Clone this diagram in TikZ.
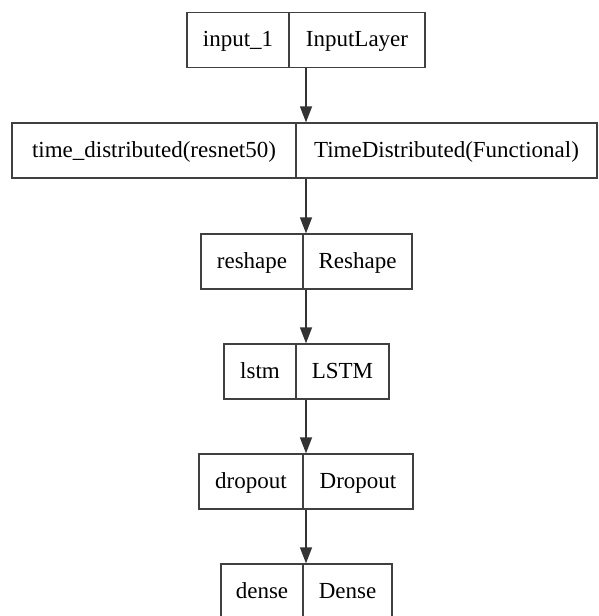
\documentclass[tikz,border=0pt]{standalone}
\usepackage{fontspec}
\setmainfont{Liberation Serif}
\usetikzlibrary{arrows.meta}
\begin{document}
\begin{tikzpicture}[x=1pt,y=-1pt,
  cell/.style={draw=black!75, line width=1.3pt, inner sep=0pt, minimum height=55pt,
    text height=17pt, text depth=4pt,
    font=\fontsize{23}{27}\selectfont, anchor=center},
  arr/.style={draw=black!80, line width=1.3pt, -{Triangle[length=16pt,width=12pt]}}]
\useasboundingbox (0,0) rectangle (599,616);
\clip (0,0) rectangle (599,616);
\coordinate (ax) at (306,0);
% box 1
\node[cell, minimum width=102pt] (n1a) at (238,40) {input\_1};
\node[cell, minimum width=136pt] (n1b) at (357,40) {InputLayer};
% box 2
\node[cell, minimum width=284pt] (n2a) at (154,150.5) {time\_distributed(resnet50)};
\node[cell, minimum width=301pt] (n2b) at (446.5,150.5) {TimeDistributed(Functional)};
% box 3
\node[cell, minimum width=102pt] (n3a) at (252,261.5) {reshape};
\node[cell, minimum width=109pt] (n3b) at (357.5,261.5) {Reshape};
% box 4
\node[cell, minimum width=72pt] (n4a) at (260,371.5) {lstm};
\node[cell, minimum width=93pt] (n4b) at (342.5,371.5) {LSTM};
% box 5
\node[cell, minimum width=104pt] (n5a) at (251,481.5) {dropout};
\node[cell, minimum width=110pt] (n5b) at (358,481.5) {Dropout};
% box 6
\node[cell, minimum width=82pt] (n6a) at (262,591.5) {dense};
\node[cell, minimum width=89pt] (n6b) at (347.5,591.5) {Dense};
% arrows
\draw[arr] (n1b.south -| ax) -- (n2b.north -| ax);
\draw[arr] (n2b.south -| ax) -- (n3b.north -| ax);
\draw[arr] (n3b.south -| ax) -- (n4b.north -| ax);
\draw[arr] (n4b.south -| ax) -- (n5b.north -| ax);
\draw[arr] (n5b.south -| ax) -- (n6b.north -| ax);
\end{tikzpicture}
\end{document}
